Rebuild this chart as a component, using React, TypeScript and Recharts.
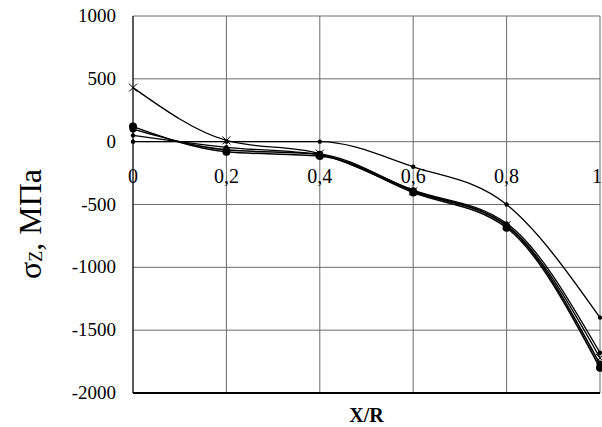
import React from 'react';
import { CartesianGrid, Label, Line, LineChart, XAxis, YAxis } from 'recharts';

const xValues = [0, 0.2, 0.4, 0.6, 0.8, 1];
const seriesCross = [430, 10, -95, -395, -665, -1720];
const seriesUpper = [0, 0, 0, -200, -500, -1400];
const seriesBigA = [120, -80, -115, -405, -685, -1800];
const seriesBigB = [100, -65, -100, -390, -670, -1770];
const seriesSmall = [50, -45, -105, -385, -650, -1680];

const xTicks = [0, 0.2, 0.4, 0.6, 0.8, 1];
const yTicks = [-2000, -1500, -1000, -500, 0, 500, 1000];

const data = xValues.map((x, i) => ({
  x,
  cross: seriesCross[i],
  upper: seriesUpper[i],
  bigA: seriesBigA[i],
  bigB: seriesBigB[i],
  small: seriesSmall[i],
}));

const W = 602;
const H = 427;
const TOP = 16;
const PLOT_H = 377;
const FONT = "'Liberation Serif', 'DejaVu Serif', serif";

// y pixel of value 0 inside the plot
const zeroY = TOP + (1000 / 3000) * PLOT_H;

function XTick(props: any) {
  const { x, payload } = props;
  const v = payload.value;
  const label = v === 0 ? '0' : String(v).replace('.', ',');
  return (
    <text
      x={v === 1 ? x + 2 : x}
      y={zeroY + 41}
      textAnchor={v === 1 ? 'end' : 'middle'}
      fontFamily={FONT}
      fontSize={20}
      fill="#000"
    >
      {label}
    </text>
  );
}

function YTick(props: any) {
  const { x, y, payload } = props;
  return (
    <text x={x} y={y} dy={6} textAnchor="end" fontFamily={FONT} fontSize={19} fill="#000">
      {payload.value}
    </text>
  );
}

function CrossDot(props: any) {
  const { cx, cy } = props;
  if (cx == null || cy == null) return null;
  const s = 4;
  return (
    <g stroke="#000" strokeWidth={1}>
      <line x1={cx - s} y1={cy - s} x2={cx + s} y2={cy + s} />
      <line x1={cx - s} y1={cy + s} x2={cx + s} y2={cy - s} />
    </g>
  );
}

function makeDot(r: number) {
  return (props: any) => {
    const { cx, cy } = props;
    if (cx == null || cy == null) return null;
    return <circle cx={cx} cy={cy} r={r} fill="#000" stroke="none" />;
  };
}

function YTitle() {
  const cx = 30;
  const cy = 224;
  return (
    <text
      x={cx}
      y={cy}
      transform={`rotate(-90 ${cx} ${cy})`}
      textAnchor="middle"
      fontFamily={FONT}
      fontSize={32}
      fill="#000"
      dominantBaseline="central"
    >
      <tspan>σ</tspan>
      <tspan fontSize={18} dy={6}>Z</tspan>
      <tspan dy={-6}>, МПа</tspan>
    </text>
  );
}

function XTitle(props: any) {
  const vb = props.viewBox || {};
  const cx = (vb.x ?? 0) + (vb.width ?? 0) / 2;
  return (
    <text x={cx} y={H - 5} textAnchor="middle" fontFamily={FONT} fontSize={20} fontWeight="bold" fill="#000">
      X/R
    </text>
  );
}

export default function App() {
  return (
    <div style={{ position: 'absolute', left: 0, top: 0, width: W, height: H, background: '#fff' }}>
      <LineChart width={W} height={H} data={data} margin={{ top: TOP, right: 2, bottom: 0, left: 0 }}>
        <CartesianGrid stroke="#6b6b6b" strokeWidth={1} />
        <XAxis
          dataKey="x"
          type="number"
          domain={[0, 1]}
          ticks={xTicks}
          tick={<XTick />}
          tickLine={false}
          axisLine={{ stroke: '#000', strokeWidth: 2 }}
          height={34}
          interval={0}
        >
          <Label content={<XTitle />} />
        </XAxis>
        <YAxis
          type="number"
          domain={[-2000, 1000]}
          ticks={yTicks}
          width={133}
          tickLine={false}
          tickMargin={11}
          axisLine={{ stroke: '#000', strokeWidth: 1 }}
          tick={<YTick />}
          interval={0}
        >
          <Label content={<YTitle />} />
        </YAxis>
        <Line type="monotone" dataKey="upper" stroke="#000" strokeWidth={1.3} dot={makeDot(2.2)} isAnimationActive={false} />
        <Line type="monotone" dataKey="cross" stroke="#000" strokeWidth={1.3} dot={<CrossDot />} isAnimationActive={false} />
        <Line type="monotone" dataKey="small" stroke="#000" strokeWidth={1.3} dot={makeDot(2.2)} isAnimationActive={false} />
        <Line type="monotone" dataKey="bigB" stroke="#000" strokeWidth={1.5} dot={makeDot(3.5)} isAnimationActive={false} />
        <Line type="monotone" dataKey="bigA" stroke="#000" strokeWidth={1.5} dot={makeDot(4)} isAnimationActive={false} />
      </LineChart>
    </div>
  );
}
